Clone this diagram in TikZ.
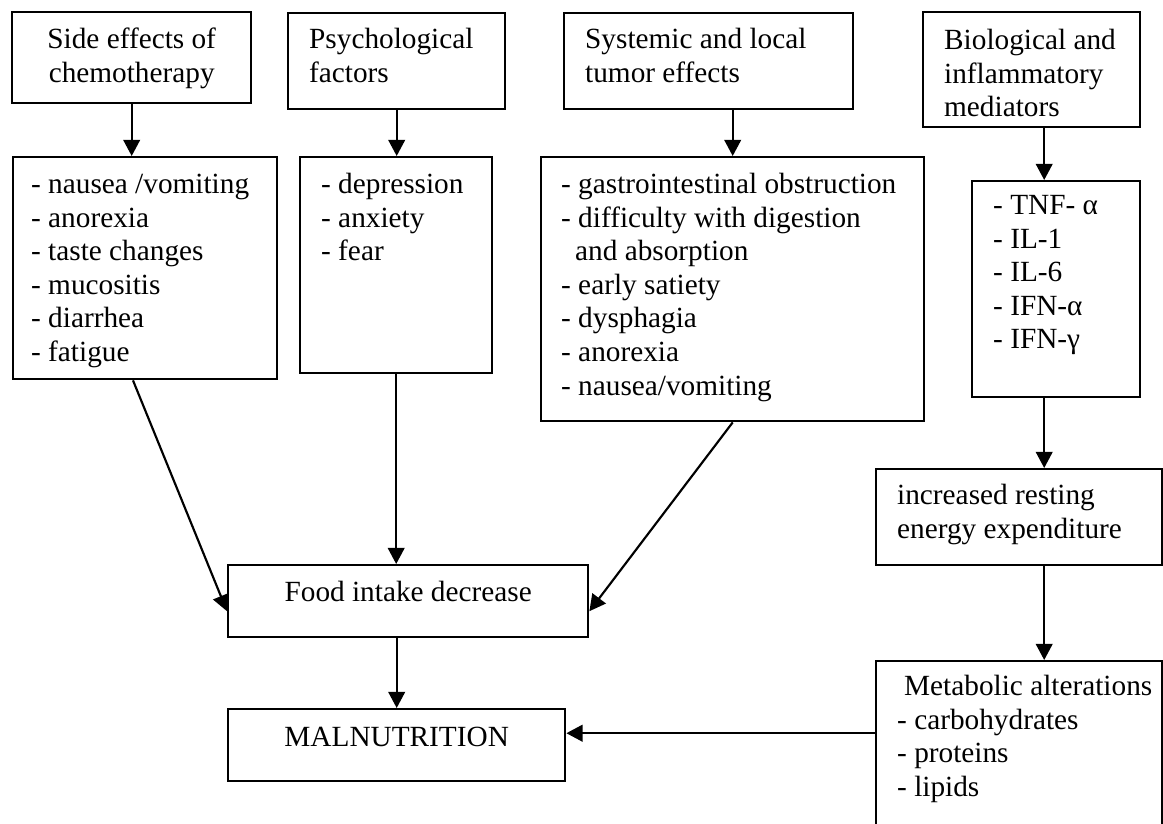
\documentclass[tikz,border=0pt]{standalone}
\usepackage{fontspec}
\setmainfont{Liberation Serif}
\usetikzlibrary{arrows.meta}
\newdimen\px \px=0.42pt
% left-aligned box content: width, height, left pad, top pad, text
\newcommand\bx[5]{\parbox[c][#2\px][t]{#1\px}{\vspace*{#4\px}\leftskip=#3\px\relax\rightskip=0pt plus 1fil\noindent\strut #5\par}}
% centred box content
\newcommand\cbx[4]{\parbox[c][#2\px][t]{#1\px}{\vspace*{#3\px}\centering\strut #4\par}}
\begin{document}
\begin{tikzpicture}[x=0.42pt,y=-0.42pt,
  box/.style={draw,line width=1pt,inner sep=0pt,anchor=north west,
    font=\fontsize{12.3pt}{14.1pt}\selectfont},
  arr/.style={line width=0.9pt,-{Triangle[length=6.8pt,width=7pt]}}]
\useasboundingbox[fill=white] (0,0) rectangle (1163,823);
\node[box] (A1) at (11,11) {\cbx{239}{91}{13}{Side effects of\\chemotherapy}};
\node[box] (A2) at (12,156) {\bx{264}{222}{18}{13}{- nausea /vomiting\\- anorexia\\- taste changes\\- mucositis\\- diarrhea\\- fatigue}};
\node[box] (B1) at (287,12) {\bx{217}{96}{21}{12}{Psychological\\factors}};
\node[box] (B2) at (299,156) {\bx{192}{216}{21}{13}{- depression\\- anxiety\\- fear}};
\node[box] (C1) at (563,12) {\bx{289}{96}{21}{12}{Systemic and local\\tumor effects}};
\node[box] (C2) at (540,156) {\bx{383}{264}{20}{13}{- gastrointestinal obstruction\\- difficulty with digestion\\\hspace*{14\px}and absorption\\- early satiety\\- dysphagia\\- anorexia\\- nausea/vomiting}};
\node[box] (D1) at (922,11) {\bx{217}{115}{21}{14}{Biological and\\inflammatory\\mediators}};
\node[box] (D2) at (971,180) {\bx{168}{216}{21}{10}{- TNF- α\\- IL-1\\- IL-6\\- IFN-α\\- IFN-γ}};
\node[box] (E) at (875,468) {\bx{286}{96}{21}{12}{increased resting\\energy expenditure}};
\node[box] (F) at (875,660) {\bx{286}{200}{21}{11}{\hspace*{7\px}Metabolic alterations\\- carbohydrates\\- proteins\\- lipids}};
\node[box] (Food) at (227,564) {\cbx{360}{72}{13}{Food intake decrease}};
\node[box] (Mal) at (227,708) {\cbx{337}{72}{14}{MALNUTRITION}};
\coordinate (dx) at ([xshift=12.5\px]D1.south);
\coordinate (ain) at ([yshift=-10\px]Food.west);
\coordinate (cin) at ([yshift=-10\px]Food.east);
\coordinate (aout) at ([xshift=121\px]A2.south west);
\coordinate (min) at ([yshift=12\px]Mal.east);
% connectors
\draw[arr] (A1.south) -- (A1.south |- A2.north);
\draw[arr] (B1.south) -- (B1.south |- B2.north);
\draw[arr] (C2.north |- C1.south) -- (C2.north);
\draw[arr] (dx) -- (dx |- D2.north);
\draw[arr] (dx |- D2.south) -- (dx |- E.north);
\draw[arr] (dx |- E.south) -- (dx |- F.north);
\draw[arr] (aout) -- (ain);
\draw[arr] (B2.south) -- (B2.south |- Food.north);
\draw[arr] (C2.south) -- (cin);
\draw[arr] (Mal.north |- Food.south) -- (Mal.north);
\draw[arr] (F.west |- min) -- (min);
\end{tikzpicture}
\end{document}
